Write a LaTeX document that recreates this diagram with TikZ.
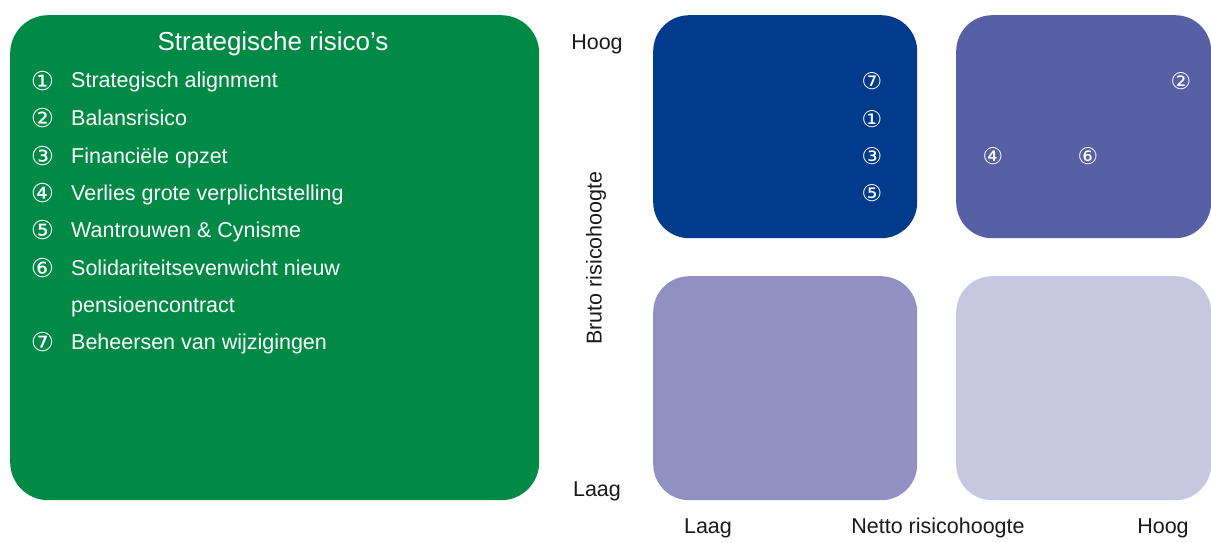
\documentclass[tikz,border=0pt]{standalone}
\usepackage{fontspec}
\setmainfont{Liberation Sans}
\newfontfamily\numfont{DejaVu Sans}
\usetikzlibrary{positioning}

\definecolor{riskgreen}{RGB}{0,138,69}
\definecolor{darkblue}{RGB}{3,59,140}
\definecolor{midblue}{RGB}{87,96,165}
\definecolor{paleblue}{RGB}{144,145,194}
\definecolor{lightblue}{RGB}{199,199,226}
\definecolor{axistext}{RGB}{26,26,26}

\begin{document}
\begin{tikzpicture}[x=1pt, y=-1pt, >=latex]
    \tikzstyle{panel}=[rectangle, rounded corners=36pt, inner sep=0pt, anchor=north west]
    \tikzstyle{item}=[anchor=base west, text=white, inner sep=0pt, font=\fontsize{21.5}{24}\selectfont]
    \tikzstyle{num}=[text=white, inner sep=0pt, font=\numfont\fontsize{26}{26}\selectfont]
    \tikzstyle{tag}=[text=white, inner sep=0pt, font=\numfont\fontsize{23}{23}\selectfont]
    \tikzstyle{axis}=[text=axistext, inner sep=0pt, font=\fontsize{21.5}{24}\selectfont]

    \useasboundingbox (0,0) rectangle (1211,543);

    % legend panel
    \node[panel, rounded corners=38pt, fill=riskgreen, minimum width=529pt, minimum height=485pt] (legend) at (10,15) {};
    \node[text=white, inner sep=0pt, font=\fontsize{26}{28}\selectfont] (title) at (273,44) {Strategische risico’s};
    \foreach \i/\n/\y/\t in {1/①/81/Strategisch alignment, 2/②/118/Balansrisico, 3/③/156/Financiële opzet,
        4/④/193/Verlies grote verplichtstelling, 5/⑤/230/Wantrouwen \& Cynisme,
        6/⑥/268/Solidariteitsevenwicht nieuw, 7/⑦/342/Beheersen van wijzigingen} {
        \node[num] (n\i) at (42.5,\y) {\n};
        \node[item] (t\i) at (71,\y+7) {\t};
    }
    \node[item] (t6b) at (71,312) {pensioencontract};

    % risk matrix
    \node[panel, fill=darkblue, minimum width=264pt, minimum height=223pt] (hh) at (653,15) {};
    \node[panel, fill=midblue, minimum width=255pt, minimum height=223pt] (hn) at (956,15) {};
    \node[panel, fill=paleblue, minimum width=264pt, minimum height=224pt] (lh) at (653,276) {};
    \node[panel, fill=lightblue, minimum width=255pt, minimum height=224pt] (ln) at (956,276) {};

    % risks in the matrix
    \node[tag] (r7) at (872,81) {⑦};
    \node[tag] (r1) at (872,119) {①};
    \node[tag] (r3) at (872,156) {③};
    \node[tag] (r5) at (872,193) {⑤};
    \node[tag] (r2) at (1181,81) {②};
    \node[tag] (r4) at (993,156) {④};
    \node[tag] (r6) at (1088,156) {⑥};

    % axes
    \node[axis] (yhigh) at (597,44) {Hoog};
    \node[axis] (ylow) at (597,491) {Laag};
    \node[axis, rotate=90] (ytitle) at (596,258) {Bruto risicohoogte};
    \node[axis] (xlow) at (708,528) {Laag};
    \node[axis] (xtitle) at (938,528) {Netto risicohoogte};
    \node[axis] (xhigh) at (1163,528) {Hoog};
\end{tikzpicture}
\end{document}
